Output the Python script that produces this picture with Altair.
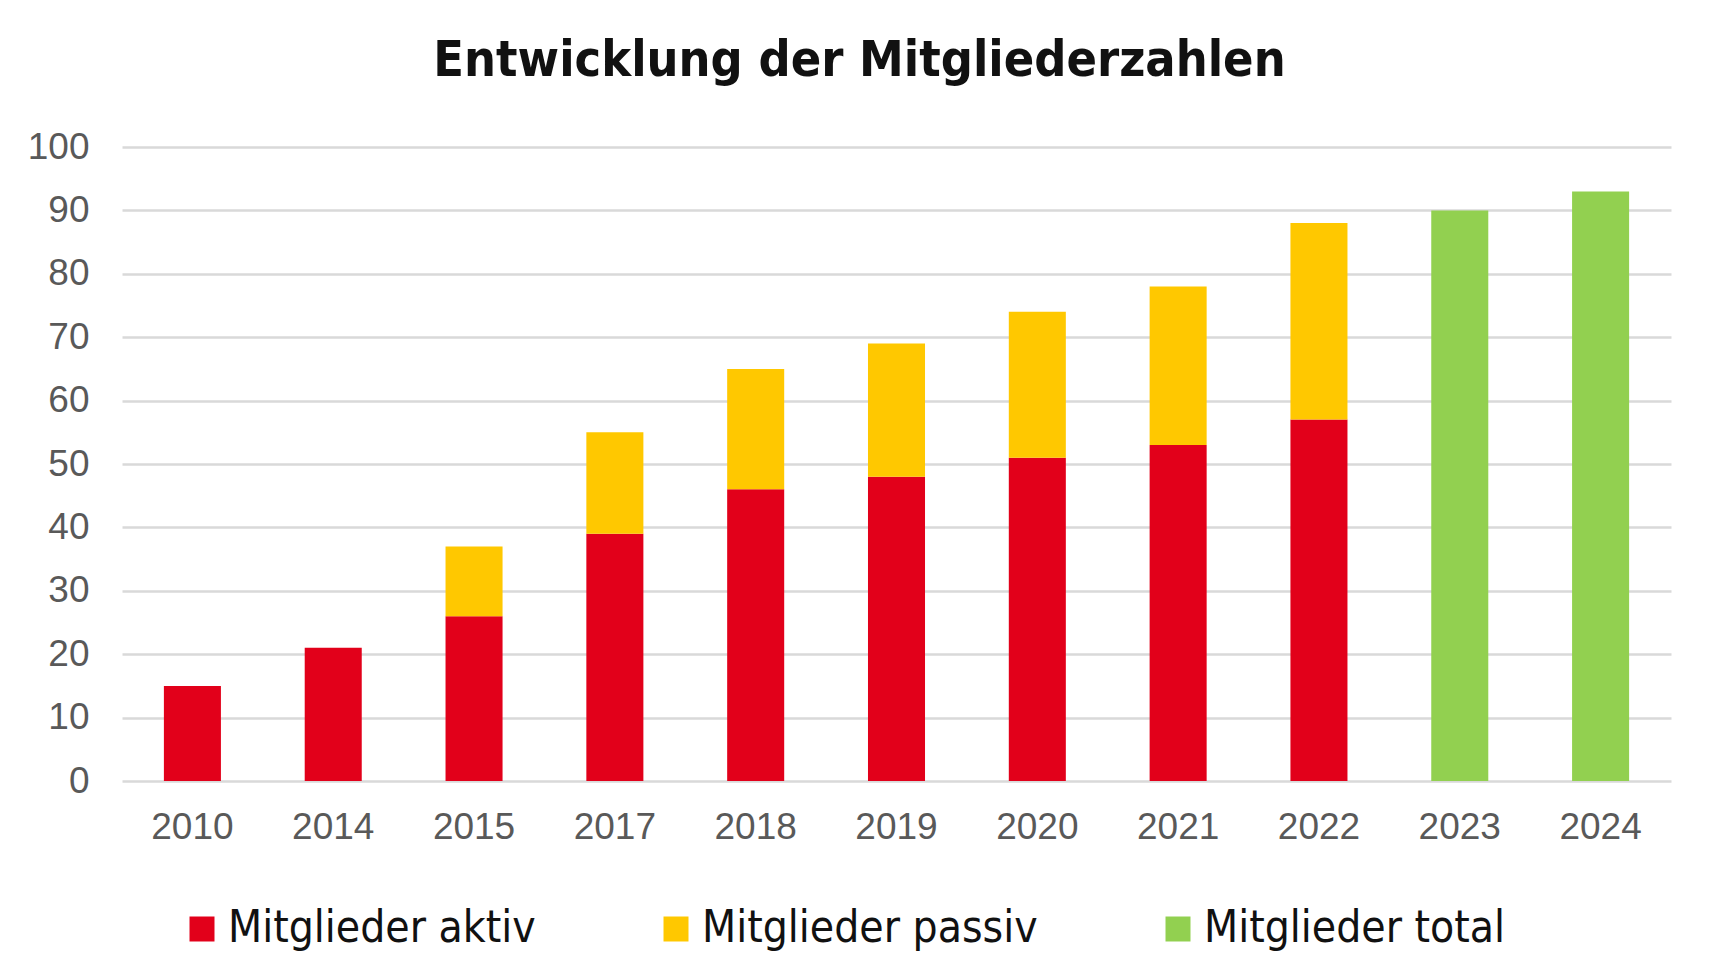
import altair as alt
import pandas as pd

years = ["2010", "2014", "2015", "2017", "2018", "2019", "2020", "2021", "2022", "2023", "2024"]
aktiv = [15, 21, 26, 39, 46, 48, 51, 53, 57, None, None]
passiv = [None, None, 11, 16, 19, 21, 23, 25, 31, None, None]
total = [None, None, None, None, None, None, None, None, None, 90, 93]

series = ["Mitglieder aktiv", "Mitglieder passiv", "Mitglieder total"]
colors = ["#E2001A", "#FFC800", "#92D050"]

rows = []
for i, y in enumerate(years):
    for k, (name, vals) in enumerate(zip(series, [aktiv, passiv, total])):
        if vals[i] is not None:
            rows.append({"Jahr": y, "Serie": name, "Wert": vals[i], "ord": k})
df = pd.DataFrame(rows)

NARROW = "DejaVu Sans Condensed, sans-serif"
AXISFONT = "Liberation Sans, Arial, sans-serif"

chart = alt.Chart(df).mark_bar().encode(
    x=alt.X("Jahr:N", sort=years,
            scale=alt.Scale(paddingInner=0.595, paddingOuter=0.2975),
            axis=alt.Axis(title=None, labelAngle=0, labelFont=AXISFONT, labelFontSize=37,
                          labelColor="#595959", labelPadding=28, ticks=False, tickSize=0,
                          domain=False, grid=False)),
    y=alt.Y("Wert:Q", stack="zero",
            scale=alt.Scale(domain=[0, 100], nice=False),
            axis=alt.Axis(title=None, values=list(range(0, 101, 10)), labelFont=AXISFONT,
                          labelFontSize=37, labelColor="#595959", labelPadding=33,
                          ticks=False, tickSize=0, domain=False,
                          gridColor="#D9D9D9", gridWidth=2.5)),
    color=alt.Color("Serie:N", sort=series,
                    scale=alt.Scale(domain=series, range=colors),
                    legend=alt.Legend(title=None, orient="none", legendX=58, legendY=760,
                                      direction="horizontal", columns=3,
                                      symbolType="square", symbolSize=625,
                                      symbolStrokeWidth=0, symbolOpacity=1,
                                      labelFont=NARROW, labelFontSize=44,
                                      labelColor="#111111", labelOffset=4,
                                      columnPadding=118, labelLimit=800)),
    order=alt.Order("ord:Q"),
).properties(
    width=1549,
    height=634,
    background="white",
    title=alt.TitleParams("Entwicklung der Mitgliederzahlen", font=NARROW, fontSize=50,
                          fontWeight="bold", color="#111111", anchor="middle", dx=-37,
                          offset=42),
    autosize=alt.AutoSizeParams(type="none"),
    padding={"left": 114, "top": 139, "right": 42, "bottom": 175},
).configure_view(strokeWidth=0, stroke="transparent")

chart.save("out.html", embed_options={"renderer": "svg", "actions": False})
